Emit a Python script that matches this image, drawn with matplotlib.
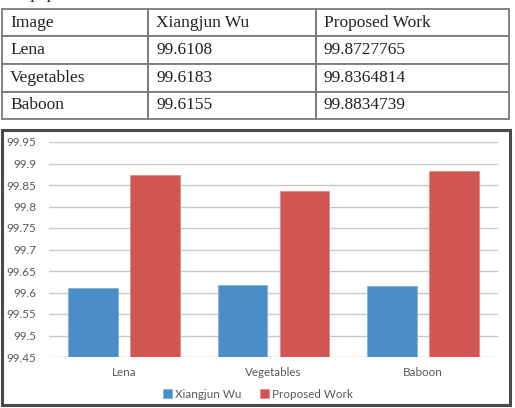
import matplotlib
matplotlib.use("Agg")
import matplotlib.pyplot as plt
from matplotlib.patches import Rectangle

W, H = 515, 408

images = ["Lena", "Vegetables", "Baboon"]
wu = [99.6108, 99.6183, 99.6155]
proposed = [99.8727765, 99.8364814, 99.8834739]
header = ["Image", "Xiangjun Wu", "Proposed Work"]
wu_txt = ["99.6108", "99.6183", "99.6155"]
prop_txt = ["99.8727765", "99.8364814", "99.8834739"]
yticks = [99.45, 99.5, 99.55, 99.6, 99.65, 99.7, 99.75, 99.8, 99.85, 99.9, 99.95]
ytick_labels = ["99.45", "99.5", "99.55", "99.6", "99.65", "99.7", "99.75", "99.8", "99.85", "99.9", "99.95"]

blue = "#4A8DC7"
red = "#D15653"
txtgray = "#595959"

fig = plt.figure(figsize=(W / 100, H / 100), dpi=100)

# line of text above the table, mostly cut off by the top edge
fig.text(3 / W, (H + 1.5) / H, "our paper.", family="Liberation Serif", fontsize=12.5,
         va="baseline", ha="left", color="#222222")

# ---- table ----
tax = fig.add_axes([0, 0, 1, 1])
tax.set_axis_off()
rows = [header] + [[images[i], wu_txt[i], prop_txt[i]] for i in range(3)]
colw_px = [146, 168, 193]
tl, tb, tw, th = 2 / W, (H - 119) / H, 507 / W, 110 / H
tab = tax.table(cellText=rows, cellLoc="left", bbox=[tl, tb, tw, th],
                colWidths=[c / sum(colw_px) for c in colw_px])
tab.auto_set_font_size(False)
for (r, c), cell in tab.get_celld().items():
    cell.set_edgecolor("#7a7a7a")
    cell.set_linewidth(1.3)
    cell.PAD = 8 / colw_px[c]
    cell.get_text().set_fontfamily("Liberation Serif")
    cell.get_text().set_fontsize(12.5)
    cell.get_text().set_color("#222222")

# ---- chart border ----
fig.patches.append(Rectangle((2 / W, 3 / H), 508 / W, 275 / H, transform=fig.transFigure,
                             fill=False, edgecolor="#4a4a4a", linewidth=2.2, zorder=5))

# ---- bar chart ----
ax = fig.add_axes([49 / W, (H - 357) / H, 449 / W, 215 / H])
x = list(range(len(images)))
bw = 0.333
off = 0.207
ax.bar([i - off for i in x], wu, width=bw, color=blue, edgecolor="#7fb2dc",
       linewidth=0.6, label="Xiangjun Wu", zorder=3)
ax.bar([i + off for i in x], proposed, width=bw, color=red, edgecolor="#e58a87",
       linewidth=0.6, label="Proposed Work", zorder=3)
ax.set_ylim(99.45, 99.95)
ax.set_xlim(-0.5, 2.5)
ax.set_yticks(yticks)
ax.set_yticklabels(ytick_labels)
ax.set_xticks(x)
ax.set_xticklabels(images)
ax.yaxis.grid(True, color="#c8c8c8", linewidth=1.0, zorder=0)
ax.set_axisbelow(True)
for s in ax.spines.values():
    s.set_visible(False)
ax.tick_params(axis="both", length=0, colors=txtgray, labelsize=8.4)
ax.tick_params(axis="y", pad=9)
ax.tick_params(axis="x", pad=7)
for lab in ax.get_xticklabels() + ax.get_yticklabels():
    lab.set_fontfamily("Lato")

fig.legend(loc="center", bbox_to_anchor=(258 / W, (H - 394) / H), ncol=2,
           frameon=False, handlelength=0.75, handleheight=0.75, handletextpad=0.25,
           columnspacing=1.6, prop={"family": "Lato", "size": 8.4}, labelcolor=txtgray)

fig.savefig("out.png", dpi=100)
